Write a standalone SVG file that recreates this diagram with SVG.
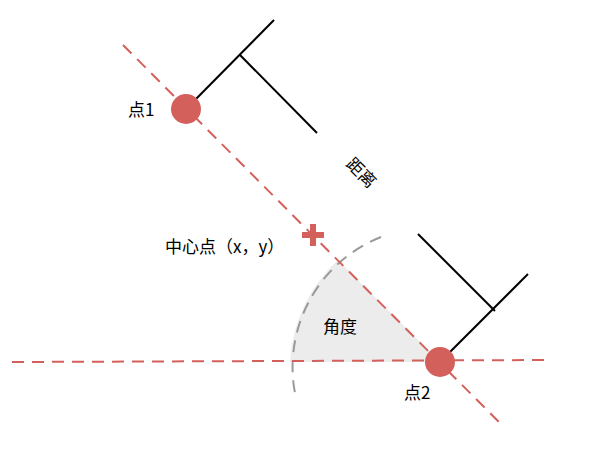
<svg xmlns="http://www.w3.org/2000/svg" width="615" height="465" viewBox="0 0 615 465">
<style>
.d{stroke:#d4605b;stroke-width:2;stroke-dasharray:12,8;fill:none}
.k{stroke:#000;stroke-width:2;fill:none}
text{font-family:"Noto Sans CJK SC","Liberation Sans",sans-serif;font-size:17px;fill:#000}
</style>
<rect width="615" height="465" fill="#fff"/>
<g id="angle">
<path d="M440,362 L290,362 A150,150 0 0 1 338,260 Z" fill="#ececec"/>
<path d="M381,237 A140,140 0 0 0 296,398" stroke="#999" stroke-width="2" stroke-dasharray="12,8" fill="none"/>
<text x="323" y="333">角度</text>
</g>
<g id="connectors">
<line class="d" x1="123" y1="45" x2="500" y2="423"/>
<line class="d" x1="12" y1="362" x2="552" y2="360"/>
<line class="k" x1="196" y1="99" x2="274" y2="20"/>
<line class="k" x1="240" y1="55" x2="317" y2="133"/>
<line class="k" x1="450" y1="352" x2="528" y2="274"/>
<line class="k" x1="418" y1="234" x2="495" y2="311"/>
</g>
<g id="p1"><circle cx="186" cy="109" r="15" fill="#d4605b"/><text x="128" y="116">点1</text></g>
<g id="p2"><circle cx="440" cy="362" r="15" fill="#d4605b"/><text x="404" y="399">点2</text></g>
<g id="center"><path d="M302,235 H324 M313,224 V246" stroke="#d4605b" stroke-width="6"/><text x="165" y="253">中心点（x，y）</text></g>
<g id="dist"><text x="0" y="0" transform="translate(345,165) rotate(45)">距离</text></g>
</svg>
